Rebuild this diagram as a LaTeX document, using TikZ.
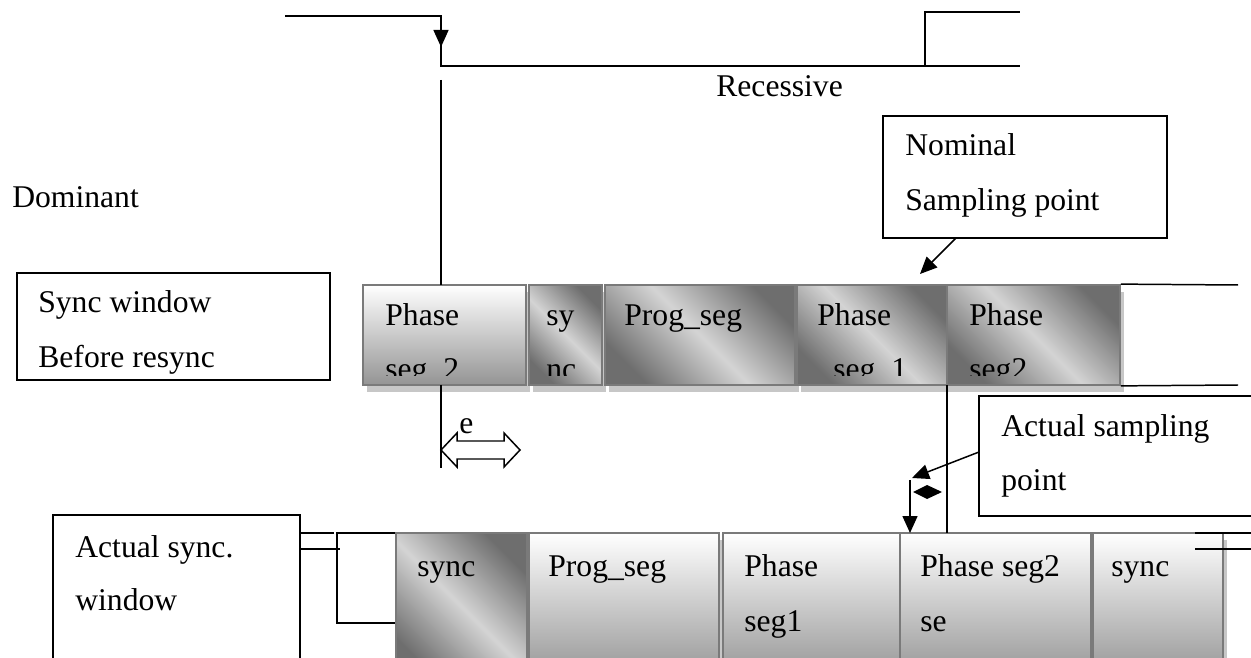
\documentclass[tikz,border=0pt]{standalone}
\usepackage{fontspec}
\setmainfont{Liberation Serif}
\usetikzlibrary{arrows.meta,fit,shadows}

\tikzset{
  wire/.style={line width=0.85pt, line cap=butt},
  lbl/.style={anchor=base west, inner sep=0pt, font=\fontsize{18}{22}\selectfont},
  callout/.style={draw, line width=0.9pt, fill=white},
  seg/.style={draw=black!52, line width=1pt, inner sep=0pt,
    drop shadow={shadow xshift=0.08cm, shadow yshift=-0.15cm, fill=black!22, opacity=1}},
  fadev/.style={seg, top color=white, bottom color=black!42},
  fadediag/.style={seg, top color=black!57, bottom color=black!57, middle color=black!17, shading angle=-45},
  headtip/.style={-{Triangle[length=0.34cm,width=0.3cm]}},
}

\begin{document}
\begin{tikzpicture}[x=0.02cm, y=-0.02cm]
\useasboundingbox (0,0) rectangle (1251,658);
\clip (0,0) rectangle (1251,658);

% ---- bus level waveform ----
\coordinate (a0) at (285,16);
\coordinate (a1) at (441,16);
\coordinate (a1m) at (441,47);
\coordinate (a2) at (441,66);
\coordinate (a3) at (925,66);
\coordinate (a4) at (1020,66);
\coordinate (a5) at (925,12);
\coordinate (a6) at (1020,12);
\draw[wire] (a0) -- (a1) -- (a2) -- (a4);
\draw[wire] (a3) -- (a5) -- (a6);
\draw[wire, headtip] (a1) -- (a1m);

\node[lbl] (rec) at (716,97) {Recessive};
\node[lbl] (dom) at (12,208) {Dominant};

% ---- callout boxes ----
\node[callout, fit={(17,273)(330,380)}, inner sep=0pt] (swb) {};
\node[lbl] at (38,313) {Sync window};
\node[lbl] at (38,368) {Before resync};

\node[callout, fit={(883,116)(1167,238)}, inner sep=0pt] (nom) {};
\node[lbl] at (905,156) {Nominal};
\node[lbl] at (905,211) {Sampling point};

% ---- bit timing before resynchronisation ----
\node[fadev,    fit={(363,285)(526,385)}] (u1) {};
\node[fadediag, fit={(529,285)(602,385)}] (u2) {};
\node[fadediag, fit={(605,285)(795,385)}] (u3) {};
\node[fadediag, fit={(797,285)(947,385)}] (u4) {};
\node[fadediag, fit={(947,285)(1120,385)}] (u5) {};

\begin{scope}
  \clip (363,285) rectangle (1120,376);
  \node[lbl] at (385,326) {Phase};
  \node[lbl] at (385,380) {seg\_2};
  \node[lbl] at (546,326) {sy};
  \node[lbl] at (546,380) {nc};
  \node[lbl] at (624,326) {Prog\_seg};
  \node[lbl] at (817,326) {Phase};
  \node[lbl] at (833,380) {seg\_1};
  \node[lbl] at (969,326) {Phase};
  \node[lbl] at (969,380) {seg2};
\end{scope}

\coordinate (ur1) at (1238,285);
\coordinate (ur2) at (1238,385);
\draw[wire] (u5.north east) -- (ur1);
\draw[wire] (u5.south east) -- (ur2);

% edge marker through the first phase segment
\coordinate (e0) at (441,80);
\coordinate (e1) at (441,285);
\coordinate (e2) at (441,385);
\coordinate (e3) at (441,468);
\draw[wire] (e0) -- (e1);
\draw[wire] (e2) -- (e3);

% phase error e
\draw[wire, fill=white] (441,450) -- (457,433) -- (457,441) -- (504,441) -- (504,433)
  -- (520,450) -- (504,467) -- (504,459) -- (457,459) -- (457,467) -- cycle;
\node[lbl] (err) at (459,434) {e};

% nominal sampling point
\coordinate (n0) at (956,238);
\coordinate (n1) at (920,274);
\draw[wire, headtip] (n0) -- (n1);

% actual sampling point
\node[callout, fit={(979,396)(1290,516)}, inner sep=0pt] (asp) {};
\node[lbl] at (1001,437) {Actual sampling};
\node[lbl] at (1001,490) {point};

\coordinate (p0) at (979,452);
\coordinate (p1) at (912,478);
\draw[wire, headtip] (p0) -- (p1);

% ---- bit timing after resynchronisation ----
\node[callout, fit={(53,515)(300,690)}, inner sep=0pt] (asw) {};
\node[lbl] at (75,557) {Actual sync.};
\node[lbl] at (75,610) {window};

\node[callout, fit={(337,533)(396,623)}, inner sep=0pt] (gap) {};
\coordinate (g0) at (300,533);
\coordinate (g1) at (334,533);
\coordinate (g2) at (300,549);
\coordinate (g3) at (340,549);
\draw[wire] (g0) -- (g1);
\draw[wire] (g2) -- (g3);

\node[fadediag, fit={(396,533)(527,680)}] (l1) {};
\node[fadev,    fit={(529,533)(719,680)}] (l2) {};
\node[fadev,    fit={(723,533)(900,680)}] (l3) {};
\node[fadev,    fit={(900,533)(1091,680)}] (l4) {};
\node[fadev,    fit={(1093,533)(1223,680)}] (l5) {};

\node[lbl] at (417,576) {sync};
\node[lbl] at (548,576) {Prog\_seg};
\node[lbl] at (744,576) {Phase};
\node[lbl] at (744,631) {seg1};
\node[lbl] at (920,576) {Phase seg2};
\node[lbl] at (920,631) {se};
\node[lbl] at (1111,576) {sync};

\coordinate (r0) at (1195,533);
\coordinate (r1) at (1251,533);
\coordinate (r2) at (1195,549);
\coordinate (r3) at (1251,549);
\draw[wire] (r0) -- (r1);
\draw[wire] (r2) -- (r3);

% sampling point shift between the two rows
\coordinate (v0) at (947,385);
\coordinate (v1) at (947,533);
\draw[wire] (v0) -- (v1);

\coordinate (d0) at (910,480);
\coordinate (d1) at (910,533);
\draw[wire, headtip] (d0) -- (d1);
\fill (913,492) -- (927,485) -- (942,492) -- (927,499) -- cycle;
\end{tikzpicture}
\end{document}
